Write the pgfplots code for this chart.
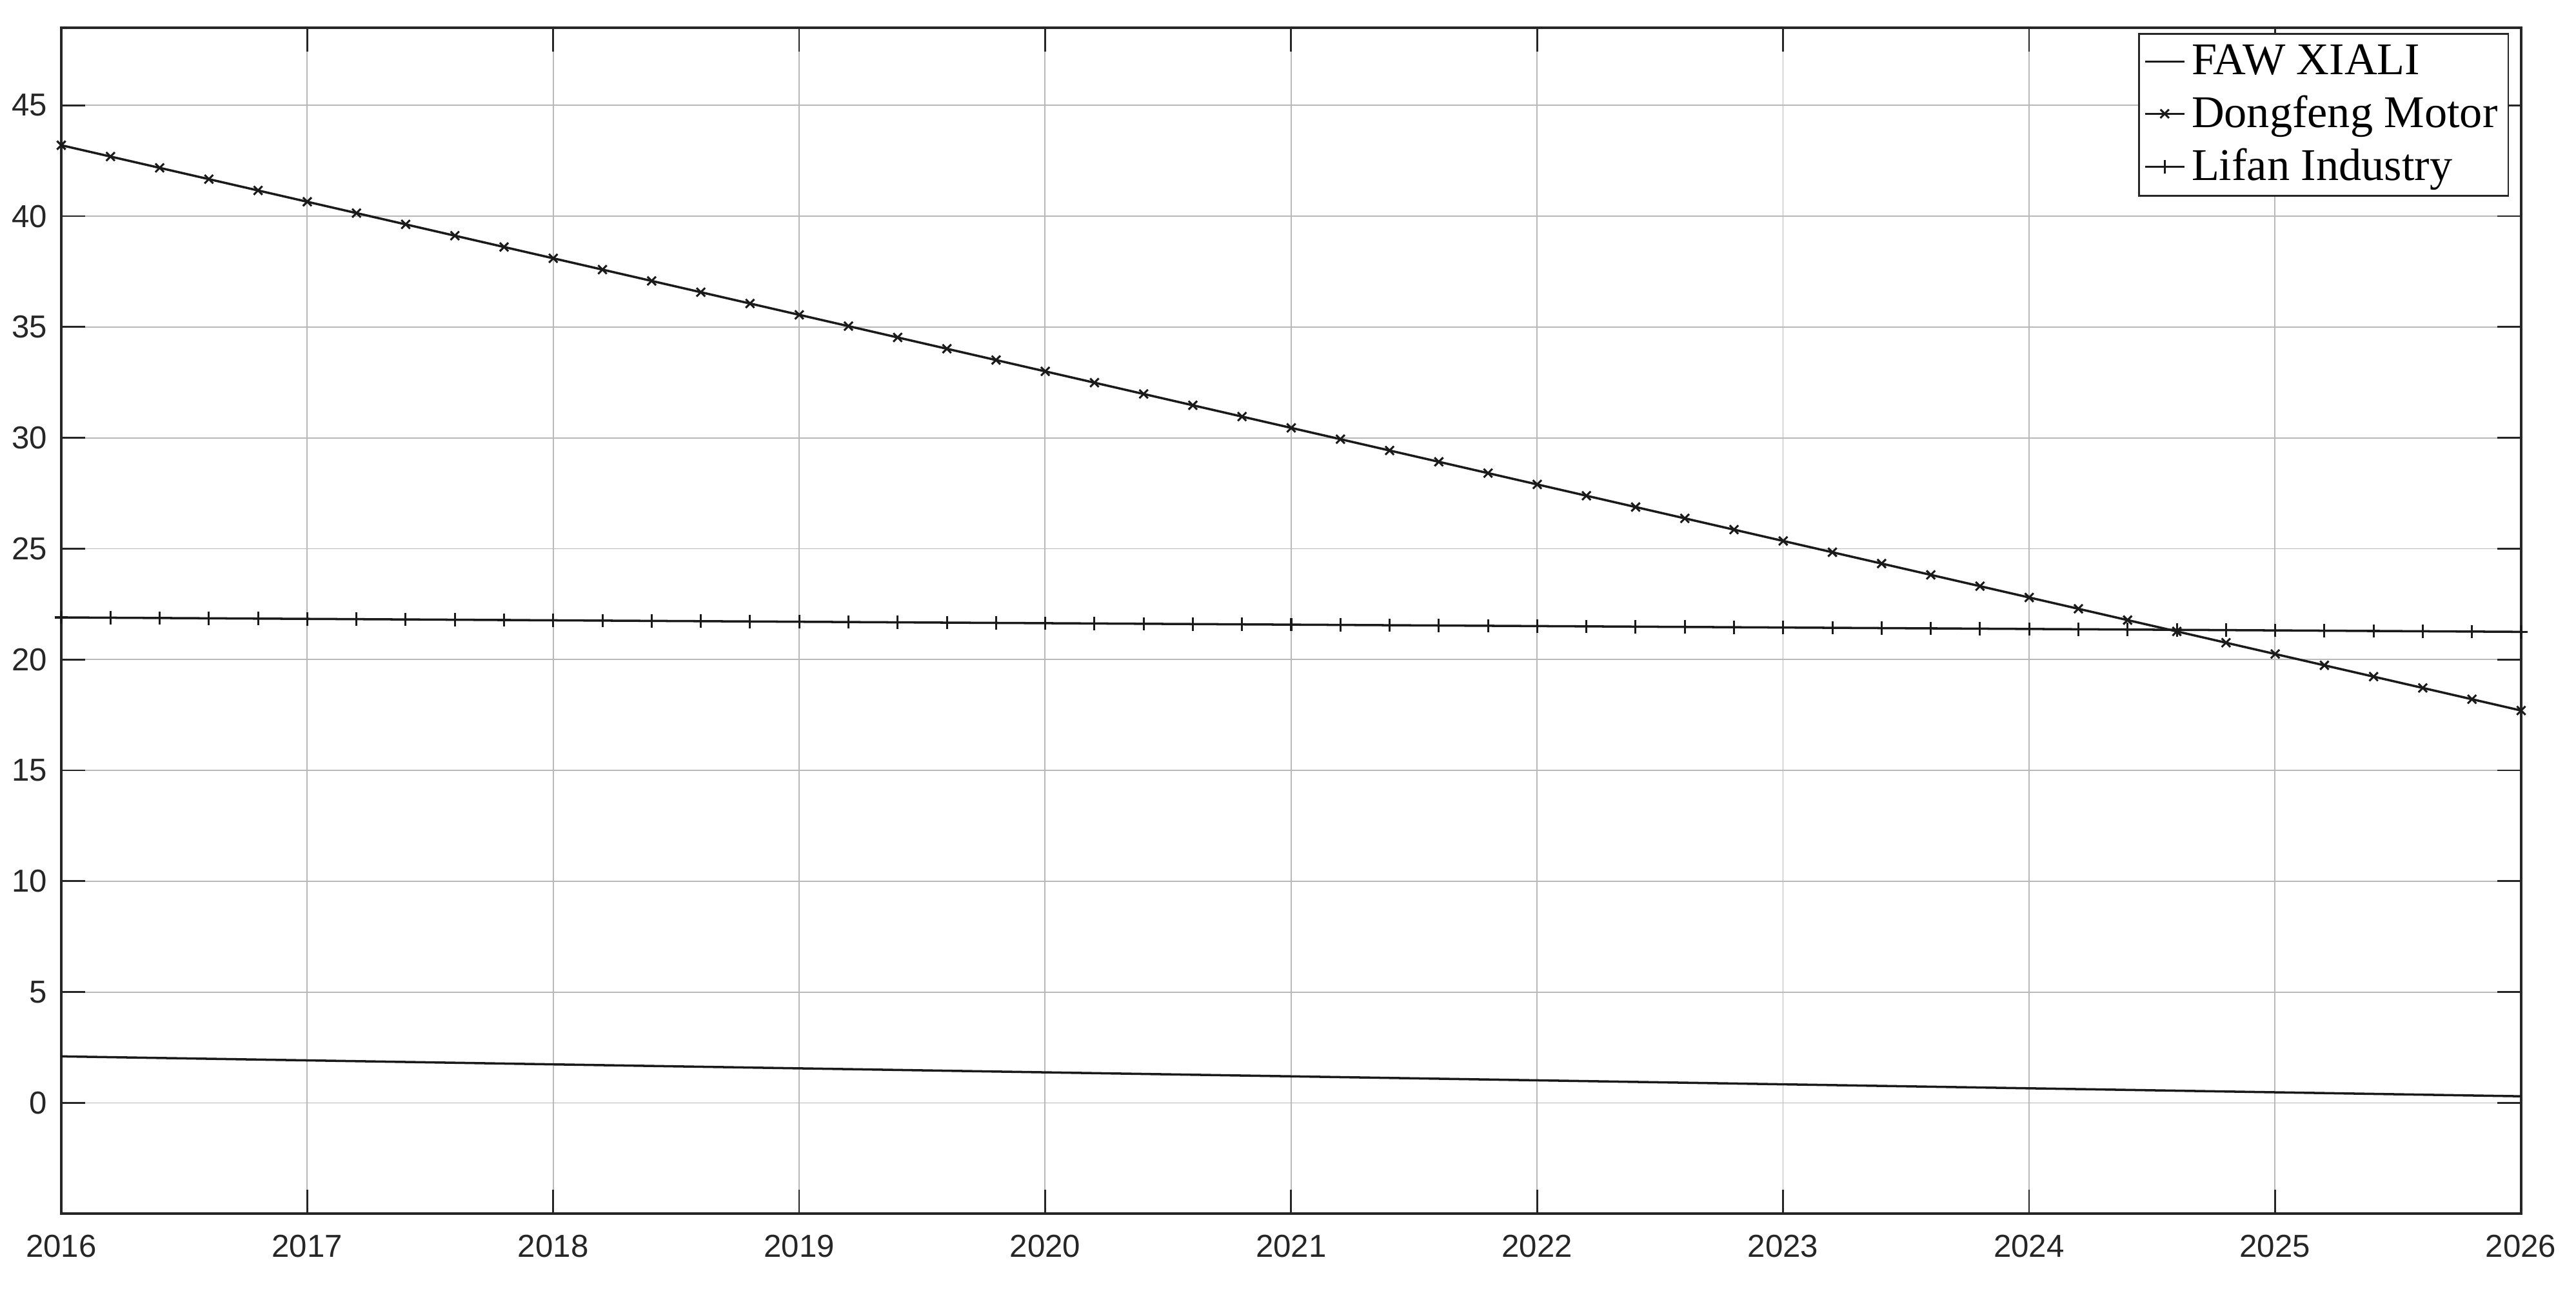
\documentclass[border=0pt]{standalone}
\usepackage{fontspec}
\setmainfont{Liberation Sans}
\newfontfamily\legfont{Liberation Serif}
\usepackage{pgfplots}
\pgfplotsset{compat=1.18}
\definecolor{axgray}{HTML}{262626}
\definecolor{linegray}{HTML}{1A1A1A}
\begin{document}
\begin{tikzpicture}
\begin{axis}[
  scale only axis,
  width=28.6cm, height=13.785cm,
  xmin=2016, xmax=2026, ymin=-5, ymax=48.5,
  xtick={2016,2017,...,2026},
  ytick={0,5,...,45},
  /pgf/number format/1000 sep={},
  /pgf/number format/assume math mode=true,
  tick label style={font=\fontsize{10.5}{12}\selectfont, text=axgray},
  xticklabel style={yshift=-0.12cm},
  yticklabel style={xshift=-0.04cm},
  grid=major,
  major grid style={gray!55, line width=0.4pt},
  axis line style={axgray, line width=0.8pt},
  tick style={axgray, line width=0.6pt},
  major tick length=0.28cm,
  tick align=inside,
  xtick pos=both, ytick pos=both,
  legend cell align=left,
  legend style={at={(1,1)}, anchor=north east, xshift=-0.14cm, yshift=-0.06cm,
    font=\legfont\fontsize{15}{17}\selectfont, draw=axgray, line width=0.6pt,
    inner sep=1.5pt, row sep=1.5pt},
  legend image code/.code={\draw[#1] (0cm,0cm) -- (0.46cm,0cm) plot coordinates {(0.23cm,0cm)};},
]
\addplot[linegray, line width=0.75pt] coordinates {
(2016,2.10) (2017,1.92) (2018,1.74) (2019,1.56) (2020,1.38) (2021,1.20)
(2022,1.02) (2023,0.84) (2024,0.66) (2025,0.48) (2026,0.30)};
\addlegendentry{FAW XIALI}
\addplot[linegray, line width=0.75pt, mark=x, mark size=2pt, mark options={line width=0.65pt}] coordinates {
(2016.0,43.20) (2016.2,42.69) (2016.4,42.18) (2016.6,41.67) (2016.8,41.16)
(2017.0,40.65) (2017.2,40.14) (2017.4,39.63) (2017.6,39.12) (2017.8,38.61)
(2018.0,38.10) (2018.2,37.59) (2018.4,37.08) (2018.6,36.57) (2018.8,36.06)
(2019.0,35.55) (2019.2,35.04) (2019.4,34.53) (2019.6,34.02) (2019.8,33.51)
(2020.0,33.00) (2020.2,32.49) (2020.4,31.98) (2020.6,31.47) (2020.8,30.96)
(2021.0,30.45) (2021.2,29.94) (2021.4,29.43) (2021.6,28.92) (2021.8,28.41)
(2022.0,27.90) (2022.2,27.39) (2022.4,26.88) (2022.6,26.37) (2022.8,25.86)
(2023.0,25.35) (2023.2,24.84) (2023.4,24.33) (2023.6,23.82) (2023.8,23.31)
(2024.0,22.80) (2024.2,22.29) (2024.4,21.78) (2024.6,21.27) (2024.8,20.76)
(2025.0,20.25) (2025.2,19.74) (2025.4,19.23) (2025.6,18.72) (2025.8,18.21)
(2026.0,17.70)};
\addlegendentry{Dongfeng Motor}
\addplot[linegray, line width=0.75pt, mark=+, mark size=2.2pt, mark options={line width=0.65pt}] coordinates {
(2016.0,21.900) (2016.2,21.887) (2016.4,21.874) (2016.6,21.861) (2016.8,21.848)
(2017.0,21.835) (2017.2,21.822) (2017.4,21.809) (2017.6,21.796) (2017.8,21.783)
(2018.0,21.770) (2018.2,21.757) (2018.4,21.744) (2018.6,21.731) (2018.8,21.718)
(2019.0,21.705) (2019.2,21.692) (2019.4,21.679) (2019.6,21.666) (2019.8,21.653)
(2020.0,21.640) (2020.2,21.627) (2020.4,21.614) (2020.6,21.601) (2020.8,21.588)
(2021.0,21.575) (2021.2,21.562) (2021.4,21.549) (2021.6,21.536) (2021.8,21.523)
(2022.0,21.510) (2022.2,21.497) (2022.4,21.484) (2022.6,21.471) (2022.8,21.458)
(2023.0,21.445) (2023.2,21.432) (2023.4,21.419) (2023.6,21.406) (2023.8,21.393)
(2024.0,21.380) (2024.2,21.367) (2024.4,21.354) (2024.6,21.341) (2024.8,21.328)
(2025.0,21.315) (2025.2,21.302) (2025.4,21.289) (2025.6,21.276) (2025.8,21.263)
(2026.0,21.250)};
\addlegendentry{Lifan Industry}
\end{axis}
\path ([shift={(-0.7125cm,-0.8925cm)}]current axis.south west) rectangle ([shift={(0.6375cm,0.3225cm)}]current axis.north east);
\end{tikzpicture}
\end{document}
